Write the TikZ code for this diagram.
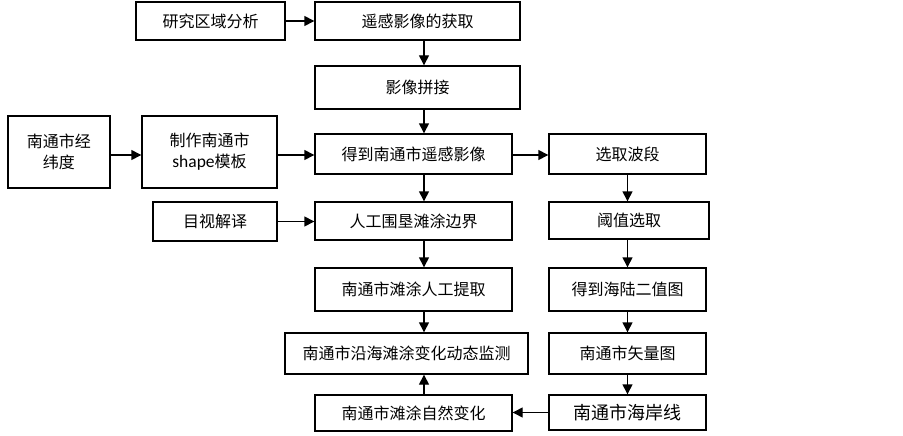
\documentclass[tikz,border=0pt]{standalone}
\usepackage{fontspec}
\setmainfont{Noto Sans CJK SC}
\newfontfamily\latinfont{Carlito}
\usetikzlibrary{arrows.meta}
\begin{document}
\begin{tikzpicture}[x=1pt,y=-1pt,
  box/.style={draw,line width=1.4pt,rectangle,inner sep=0pt,align=center,
    font=\fontsize{16}{21}\selectfont},
  arr/.style={line width=1.4pt,-{Triangle[length=10pt,width=10pt]}}]
\useasboundingbox (0,0) rectangle (903,436);
\node[box,minimum width=149pt,minimum height=38pt] (A) at (210.5,21) {研究区域分析};
\node[box,minimum width=205pt,minimum height=38pt] (B) at (417.5,21) {遥感影像的获取};
\node[box,minimum width=205pt,minimum height=43pt] (C) at (417.5,87.5) {影像拼接};
\node[box,minimum width=102pt,minimum height=72pt] (D) at (59,152) {南通市经\\纬度};
\node[box,minimum width=135pt,minimum height=72pt] (E) at (209.5,152) {制作南通市\\{\latinfont\fontsize{17.5}{21}\selectfont shape}模板};
\node[box,minimum width=197pt,minimum height=40pt] (F) at (413.5,154) {得到南通市遥感影像};
\node[box,minimum width=157pt,minimum height=40pt] (G) at (627.5,154) {选取波段};
\node[box,minimum width=124pt,minimum height=39pt] (H) at (215,221.5) {目视解译};
\node[box,minimum width=197pt,minimum height=38pt] (I) at (413.5,221) {人工围垦滩涂边界};
\node[box,minimum width=160pt,minimum height=37pt] (J) at (629,220.5) {阈值选取};
\node[box,minimum width=197pt,minimum height=43pt] (K) at (413.5,289.5) {南通市滩涂人工提取};
\node[box,minimum width=157pt,minimum height=43pt] (L) at (627.5,289.5) {得到海陆二值图};
\node[box,minimum width=243pt,minimum height=41pt] (M) at (406.5,353.5) {南通市沿海滩涂变化动态监测};
\node[box,minimum width=157pt,minimum height=41pt] (N) at (627.5,353.5) {南通市矢量图};
\node[box,minimum width=197pt,minimum height=36pt] (O) at (413.5,413) {南通市滩涂自然变化};
\node[box,minimum width=157pt,minimum height=35pt,font=\fontsize{18}{21}\selectfont] (P) at (627.5,412.5) {南通市海岸线};
\coordinate (vx) at (424,0);
\coordinate (rx) at (627.5,0);
\coordinate (hy) at (0,155);
% horizontal
\draw[arr] (A.east) -- (B.west);
\draw[arr] (D.east |- hy) -- (E.west |- hy);
\draw[arr] (E.east |- hy) -- (F.west |- hy);
\draw[arr] (F.east |- hy) -- (G.west |- hy);
\draw[arr] (H.east) -- (I.west |- H.east);
\draw[arr] (P.west) -- (O.east |- P.west);
% vertical main
\draw[arr] (B.south -| vx) -- (C.north -| vx);
\draw[arr] (C.south -| vx) -- (F.north -| vx);
\draw[arr] (F.south -| vx) -- (I.north -| vx);
\draw[arr] (I.south -| vx) -- (K.north -| vx);
\draw[arr] (K.south -| vx) -- (M.north -| vx);
\draw[arr] (O.north -| vx) -- (M.south -| vx);
% vertical right
\draw[arr] (G.south -| rx) -- (J.north -| rx);
\draw[arr] (J.south -| rx) -- (L.north -| rx);
\draw[arr] (L.south -| rx) -- (N.north -| rx);
\draw[arr] (N.south -| rx) -- (P.north -| rx);
\end{tikzpicture}
\end{document}
